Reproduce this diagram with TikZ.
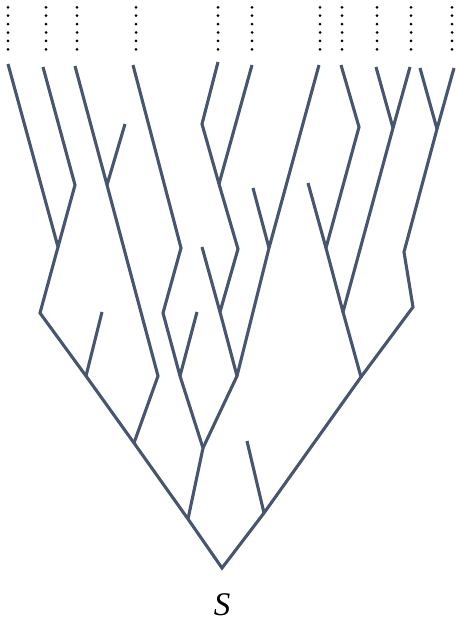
\documentclass[tikz,border=0pt]{standalone}
\usepackage{fontspec}
\setmainfont{Liberation Serif}
\definecolor{branch}{HTML}{475571}
\tikzset{
  br/.style={draw=branch, line width=3.1pt, line join=miter, line cap=butt},
  dotcol/.style={fill=black},
}
\begin{document}
\begin{tikzpicture}[x=1pt,y=-1pt]
\useasboundingbox (0,0) rectangle (456,621);
% junctions
\coordinate (r) at (222,568);
\coordinate (a) at (188,519);
\coordinate (b) at (264,513);
\coordinate (c) at (361,377);
\coordinate (d) at (134,443);
\coordinate (e) at (203,448);
\coordinate (f) at (86,376);
\coordinate (g) at (158,376);
\coordinate (h) at (40,313);
\coordinate (i) at (58,247);
\coordinate (j) at (75,185);
\coordinate (k) at (107,185);
\coordinate (l) at (180,376);
\coordinate (m) at (237,376);
\coordinate (n) at (163,313);
\coordinate (o) at (181,248);
\coordinate (p) at (220,312);
\coordinate (q) at (269,248);
\coordinate (s) at (238,249);
\coordinate (t) at (219,184);
\coordinate (u) at (202,124);
\coordinate (v) at (343,312);
\coordinate (w) at (413,307);
\coordinate (x) at (326,248);
\coordinate (y) at (393,128);
\coordinate (z) at (359,127);
\coordinate (w2) at (404,252);
\coordinate (w3) at (437,129);
% stubs
\coordinate (sb) at (247,441);
\coordinate (sf) at (102,312);
\coordinate (sk) at (125,124);
\coordinate (sl) at (197,312);
\coordinate (sp) at (202,247);
\coordinate (sq) at (253,188);
\coordinate (sx) at (308,183);
% leaves
\coordinate (L1) at (8,64);
\coordinate (L2) at (43,67);
\coordinate (L3) at (75,66);
\coordinate (L4) at (133,65);
\coordinate (L5) at (218,62);
\coordinate (L6) at (252,65);
\coordinate (L7) at (319,65);
\coordinate (L8) at (341,65);
\coordinate (L9) at (376,67);
\coordinate (L10) at (410,67);
\coordinate (L11) at (420,68);
\coordinate (L12) at (454,68);
% branches
\draw[br] (L1) -- (i) -- (h) -- (f) -- (d) -- (a) -- (r) -- (b) -- (c) -- (v) -- (y) -- (L10);
\draw[br] (L2) -- (j) -- (i);
\draw[br] (sf) -- (f);
\draw[br] (L3) -- (k) -- (g) -- (d);
\draw[br] (sk) -- (k);
\draw[br] (a) -- (e) -- (l) -- (n) -- (o) -- (L4);
\draw[br] (sl) -- (l);
\draw[br] (e) -- (m) -- (p) -- (s) -- (t) -- (u) -- (L5);
\draw[br] (t) -- (L6);
\draw[br] (sp) -- (p);
\draw[br] (m) -- (q) -- (L7);
\draw[br] (sq) -- (q);
\draw[br] (sb) -- (b);
\draw[br] (v) -- (x) -- (z) -- (L8);
\draw[br] (sx) -- (x);
\draw[br] (y) -- (L9);
\draw[br] (c) -- (w) -- (w2) -- (w3) -- (L12);
\draw[br] (w3) -- (L11);
% dotted continuations
\foreach \dx in {8,46,77,136,218,252,320,342,377,411,452}{
  \foreach \dy in {7.3,15.7,24.1,32.5,40.9,49.3}{
    \fill[dotcol] (\dx,\dy) circle (1.5pt);
  }
}
\node[inner sep=0pt, anchor=base] (S) at (222,615) {\fontsize{33}{35}\selectfont\itshape S};
\end{tikzpicture}
\end{document}
